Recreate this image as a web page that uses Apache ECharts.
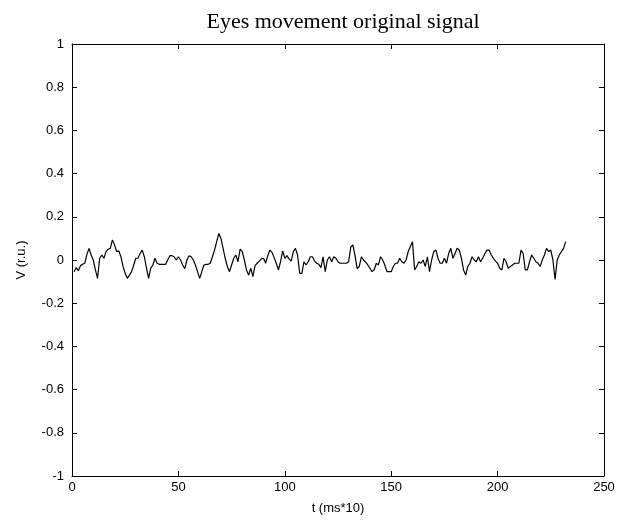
<!DOCTYPE html>
<html><head><meta charset="utf-8">
<script src="https://cdn.jsdelivr.net/npm/echarts@6/dist/echarts.min.js"></script>
<style>html,body{margin:0;padding:0;background:#fff}#c{width:638px;height:532px}</style>
</head><body><div id="c"></div>
<script>
const title = 'Eyes movement original signal';
const xName = 't (ms*10)';
const yName = 'V (r.u.)';
const xTicks = [0, 50, 100, 150, 200, 250];
const yTicks = [-1, -0.8, -0.6, -0.4, -0.2, 0, 0.2, 0.4, 0.6, 0.8, 1];
const tStart = 1;
const signal = [
 -0.054,-0.035,-0.05,-0.026,-0.02,-0.015,0.026,0.054,0.023,0,
 -0.046,-0.085,0.008,0.023,0.008,0.039,0.05,0.054,0.093,0.07,
 0.039,0.042,0.015,-0.03,-0.062,-0.085,-0.07,-0.054,-0.023,0.008,
 0.008,0.03,0.046,0.015,-0.038,-0.085,-0.038,-0.023,0.008,-0.015,
 -0.02,-0.02,-0.02,-0.02,0,0.02,0.02,0.015,0,0.015,
 0,-0.023,-0.04,0,0.02,0.015,0,-0.023,-0.054,-0.085,
 -0.054,-0.023,-0.02,-0.02,-0.015,0.015,0.046,0.085,0.123,0.1,
 0.054,0.008,-0.03,-0.054,-0.023,0.008,0.023,-0.008,0.05,0.039,
 0,-0.046,-0.07,-0.038,-0.077,-0.026,-0.015,-0.005,0.005,0.008,
 -0.015,0.02,0.046,0.035,0.011,-0.015,-0.046,-0.008,0.042,0.008,
 0.02,0.005,-0.005,0.039,0.054,0.023,-0.062,-0.062,-0.008,-0.023,
 -0.008,0.015,0.015,-0.005,-0.015,-0.02,-0.035,0.015,-0.054,0,
 0.015,-0.008,0.015,0.008,-0.008,-0.015,-0.015,-0.015,-0.015,-0.008,
 0.06,0.07,0.02,-0.04,-0.03,0.015,0,-0.01,-0.023,-0.038,
 -0.054,-0.045,-0.015,-0.023,0.015,0,-0.023,-0.054,-0.054,-0.054,
 -0.03,-0.015,-0.015,0.008,-0.008,-0.015,0,0.039,0.062,0.085,
 -0.046,-0.03,-0.008,-0.015,0,-0.03,0.015,-0.054,0,0.039,
 0.046,0.008,-0.015,-0.015,0.008,-0.015,0.03,0.054,0.008,0.03,
 0.054,0.046,0.008,-0.046,-0.07,-0.03,-0.015,0.015,0,-0.008,
 0.015,-0.008,0.008,0.03,0.046,0.046,0.023,0.008,-0.005,-0.015,
 -0.038,-0.046,0.008,-0.008,-0.038,-0.03,-0.023,-0.015,-0.015,-0.015,
 0.046,0.03,-0.046,-0.046,-0.008,0.023,0.008,-0.008,-0.015,-0.03,
 0,0.023,0.054,0.039,0.046,0,-0.09,0,0.023,0.039,
 0.054,0.085
];
const data = signal.map((v, i) => [tStart + i, v]);
const lab = {color:'#000', fontFamily:'Liberation Sans', fontSize:13};
const axLine = {show:true, onZero:false, lineStyle:{color:'#000', width:1}};
const tick = {show:true, inside:true, length:5, lineStyle:{color:'#000'}};
const chart = echarts.init(document.getElementById('c'), null, {renderer:'canvas'});
chart.setOption({
  animation:false,
  backgroundColor:'#fff',
  title:{text:title, left:338, textAlign:'center', top:6,
    textStyle:{fontFamily:'Liberation Serif', fontWeight:'normal', fontSize:22, color:'#000'}},
  grid:{left:72, right:34, top:44, bottom:56, containLabel:false},
  xAxis:[
    {type:'value', min:xTicks[0], max:xTicks[xTicks.length-1], interval:50, position:'bottom',
     name:xName, nameLocation:'middle', nameGap:26, nameTextStyle:lab,
     axisLine:axLine, axisTick:tick, axisLabel:{...lab, margin:5}, splitLine:{show:false}},
    {type:'value', min:xTicks[0], max:xTicks[xTicks.length-1], interval:50, position:'top',
     axisLine:axLine, axisTick:tick, axisLabel:{show:false}, splitLine:{show:false}}
  ],
  yAxis:[
    {type:'value', min:yTicks[0], max:yTicks[yTicks.length-1], interval:0.2, position:'left',
     name:yName, nameLocation:'middle', nameGap:44, nameRotate:90, nameTextStyle:lab,
     axisLine:axLine, axisTick:tick,
     axisLabel:{...lab, margin:8, formatter:v=>String(+v.toFixed(1))}, splitLine:{show:false}},
    {type:'value', min:yTicks[0], max:yTicks[yTicks.length-1], interval:0.2, position:'right',
     axisLine:axLine, axisTick:tick, axisLabel:{show:false}, splitLine:{show:false}}
  ],
  series:[{type:'line', data:data, xAxisIndex:0, yAxisIndex:0, symbol:'none',
    lineStyle:{color:'#000', width:1.2}}]
});
</script></body></html>
